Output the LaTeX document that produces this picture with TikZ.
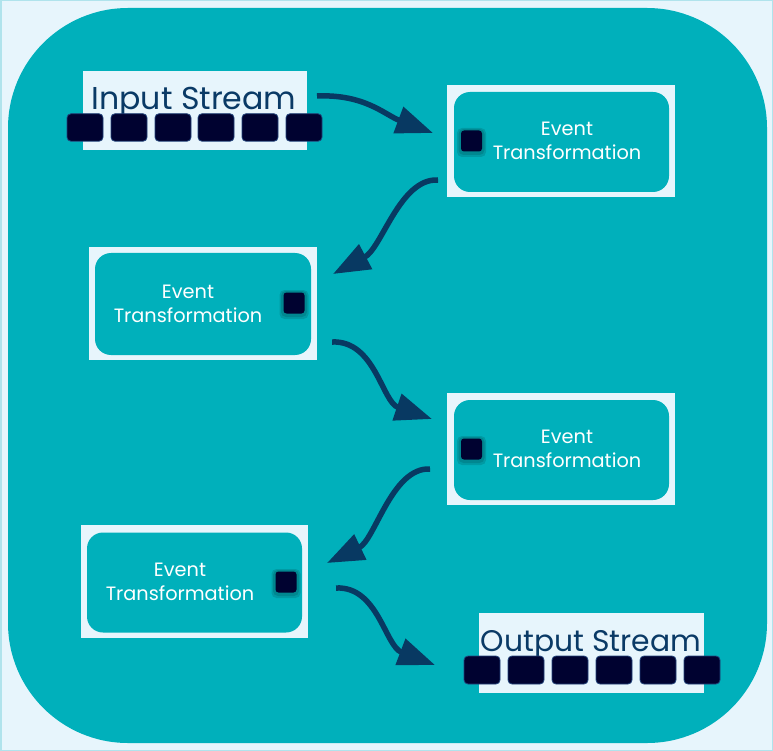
\documentclass[tikz,border=0pt]{standalone}
\usepackage{fontspec}
\setmainfont{Poppins}
\usetikzlibrary{arrows.meta}
\definecolor{bgc}{HTML}{E7F5FC}
\definecolor{framec}{HTML}{B0E3EC}
\definecolor{tealc}{HTML}{00B0BB}
\definecolor{txtc}{HTML}{0A3A66}
\definecolor{arrc}{HTML}{083962}
\definecolor{sqc}{HTML}{000230}
\definecolor{sqb}{HTML}{22437A}
\tikzset{
  outerbox/.style={fill=bgc, inner sep=0pt, minimum width=228pt, minimum height=112pt},
  innerbox/.style={fill=tealc, rounded corners=16pt, inner sep=0pt, minimum width=215pt, minimum height=100pt},
  evtext/.style={text=white, font=\fontsize{19.3}{24}\selectfont, align=center, inner sep=0pt},
  streambox/.style={fill=bgc, inner sep=0pt, minimum width=225pt, minimum height=80pt},
  streamtext/.style={text=txtc, inner sep=0pt, anchor=base},
  bigsq/.style={fill=sqc, draw=sqb, line width=0.8pt, rounded corners=4pt, inner sep=0pt, minimum width=36pt, minimum height=27.5pt},
  smallsq/.style={fill=sqc, rounded corners=3pt, inner sep=0pt, minimum size=21pt},
  glow/.style={fill=black, rounded corners=5pt, inner sep=0pt, opacity=0.12},
  flow/.style={draw=arrc, line width=5.5pt, -{Triangle[length=37pt,width=27pt]}},
}
\newcommand{\glowsq}[2]{%
  \node[glow, minimum size=29pt] at ($(#2)+(0,1.5)$) {};
  \node[glow, minimum size=26pt] at ($(#2)+(0,1)$) {};
  \node[smallsq] (#1) at (#2) {};
}
\usetikzlibrary{calc}
\begin{document}
\begin{tikzpicture}[x=1pt,y=-1pt]
\useasboundingbox (0,0) rectangle (773,751);
\fill[bgc] (0,0) rectangle (773,751);
\draw[framec, line width=1.5pt] (0.75,0.75) rectangle (772.25,750.25);
\fill[tealc, rounded corners=120pt] (8,8) rectangle (767,743);

% input stream
\node[streambox, minimum width=224pt, minimum height=79pt] (in) at (195,110.5) {};
\node[streamtext, font=\fontsize{31.6}{34}\selectfont] (intext) at (194,110) {Input Stream};
\foreach \i/\x in {1/85,2/129,3/173,4/216,5/260,6/304}
  \node[bigsq] (is\i) at (\x,127.5) {};

% event boxes
\node[outerbox] (e1) at (561,141) {};
\node[innerbox] (e1i) at (561.5,142) {};
\node[evtext] (e1t) at (567,141) {Event\\Transformation};
\glowsq{e1s}{471.5,141}

\node[outerbox, minimum height=113pt] (e2) at (203,303.5) {};
\node[innerbox, minimum width=216pt, minimum height=102pt] (e2i) at (203,304) {};
\node[evtext] (e2t) at (188,304) {Event\\Transformation};
\glowsq{e2s}{294,303}

\node[outerbox] (e3) at (561,449) {};
\node[innerbox] (e3i) at (561.5,450) {};
\node[evtext] (e3t) at (567,449) {Event\\Transformation};
\glowsq{e3s}{471.5,449}

\node[outerbox, minimum width=227pt, minimum height=113pt] (e4) at (194.5,581.5) {};
\node[innerbox] (e4i) at (194.5,582.5) {};
\node[evtext] (e4t) at (180,582) {Event\\Transformation};
\glowsq{e4s}{286,582}

% output stream
\node[streambox] (out) at (591.5,653) {};
\node[streamtext, font=\fontsize{29.8}{34}\selectfont] (outtext) at (591,651) {Output Stream};
\foreach \i/\x in {1/482,2/526,3/570,4/614,5/658,6/702}
  \node[bigsq, minimum height=28pt] (os\i) at (\x,670) {};

% connector ends
\coordinate (a1s) at (317,96);  \coordinate (a1e) at (433,133);
\coordinate (a2s) at (438,180); \coordinate (a2e) at (333,274);
\coordinate (a3s) at (332,342); \coordinate (a3e) at (432,419);
\coordinate (a4s) at (430,469); \coordinate (a4e) at (327,563);
\coordinate (a5s) at (336,588); \coordinate (a5e) at (435,665);

\draw[flow] (a1s) .. controls (365,94) and (385,115) .. (a1e);
\draw[flow] (a2s) .. controls (400,178) and (382,248) .. (a2e);
\draw[flow] (a3s) .. controls (375,340) and (382,402) .. (a3e);
\draw[flow] (a4s) .. controls (392,467) and (375,540) .. (a4e);
\draw[flow] (a5s) .. controls (378,586) and (385,646) .. (a5e);
\end{tikzpicture}
\end{document}
